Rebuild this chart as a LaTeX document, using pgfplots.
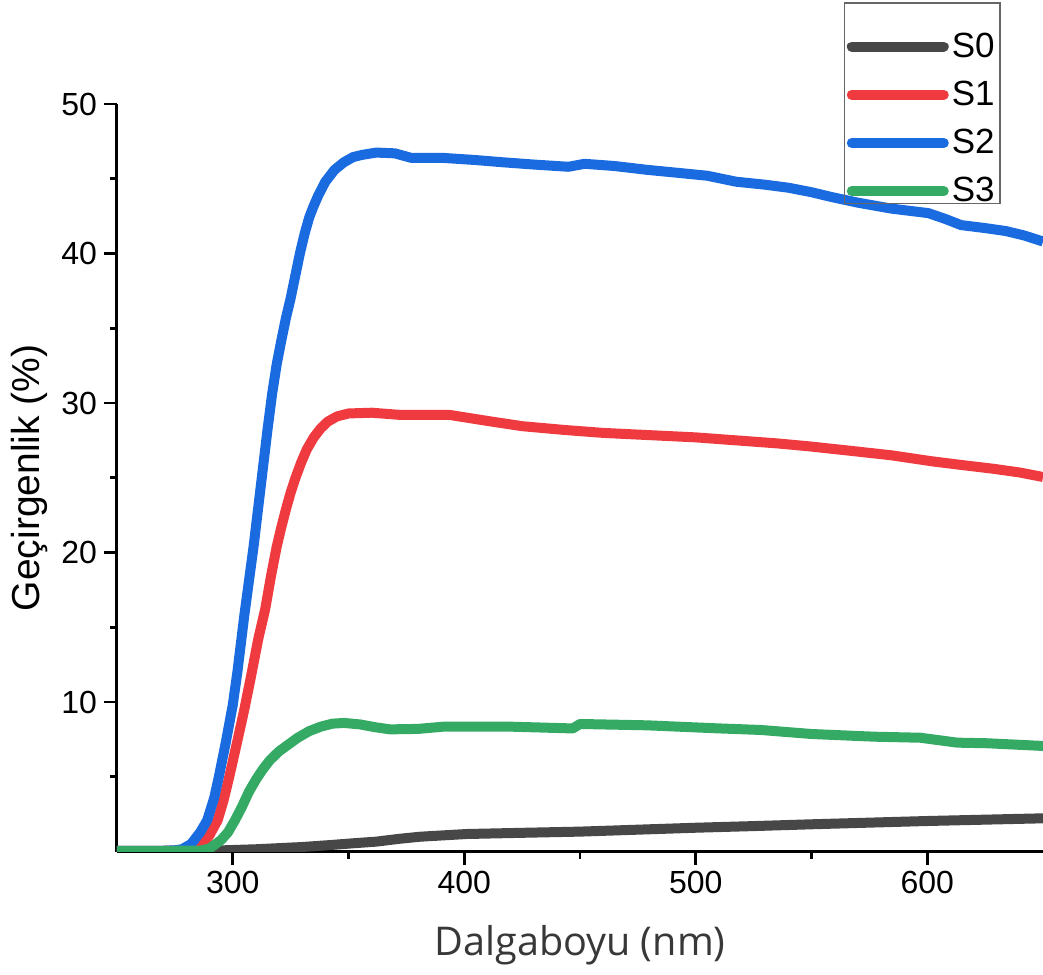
\documentclass[border=0pt]{standalone}
\usepackage{pgfplots}
\pgfplotsset{compat=1.18}
\usepackage{pgfplotstable}
\usepackage{fontspec}
\setmainfont{Liberation Sans}
\newfontfamily\labelfont{Open Sans}
\definecolor{cS0}{HTML}{474747}
\definecolor{cS1}{HTML}{EF3B3F}
\definecolor{cS2}{HTML}{1A6BE0}
\definecolor{cS3}{HTML}{34AA65}

\pgfplotstableread{
x y
250 0.02
270 0.02
290 0.05
310 0.15
330 0.30
342 0.43
352 0.55
362 0.66
372 0.85
381 0.99
401 1.17
425 1.25
450 1.33
475 1.46
500 1.59
525 1.70
550 1.82
575 1.93
600 2.04
625 2.13
650 2.22
}\tS

\pgfplotstableread{
x y
250 0.05
270 0.05
280 0.06
284 0.15
287 0.5
290 1.1
293.5 2.1
296 3.4
298.5 5.0
302 7.4
305 9.5
308 11.8
311 14.2
314 16.2
316.5 18.4
319 20.4
321 21.7
323 22.9
325 24.0
327 24.95
329.5 26.0
332 26.9
335 27.7
338 28.3
341 28.75
345 29.1
350 29.3
360 29.35
372.6 29.2
393.8 29.2
410 28.8
425 28.45
443 28.2
460 28.0
478.7 27.86
500 27.7
517.5 27.5
535 27.3
549 27.1
567 26.8
584.6 26.5
602 26.1
615 25.85
628.6 25.6
640 25.35
650 25.05
}\tA

\pgfplotstableread{
x y
250 0.05
270 0.05
275 0.08
278 0.15
282 0.5
286 1.3
289 2.1
292 3.6
294 5.0
297 7.3
300 9.8
302 12.0
305 15.8
309 20.4
313 25.6
315 28.2
317 30.6
319 32.6
321 34.2
323 35.7
325 37.0
327 38.5
329 40.0
331 41.3
333 42.4
335 43.2
337 43.9
340 44.8
344 45.6
348 46.1
352 46.45
356 46.6
362 46.75
370 46.7
377 46.4
390.3 46.4
405 46.25
416.8 46.1
430 45.95
445 45.8
452 46.0
465 45.85
478.7 45.6
492 45.4
505 45.2
517.5 44.8
530 44.6
540 44.4
550 44.1
558 43.8
570 43.4
584.6 43.0
600.5 42.7
608 42.3
614.6 41.9
625 41.7
634 41.5
642 41.2
650 40.8
}\tB

\pgfplotstableread{
x y
250 0.05
275 0.05
286 0.06
290 0.2
295 0.77
298 1.3
301 2.1
304 3.0
307 4.0
310 4.8
313 5.5
316 6.1
320 6.7
324 7.15
328 7.6
333 8.05
338 8.35
343 8.55
348 8.6
355 8.5
362 8.3
368 8.17
380 8.2
391 8.35
420 8.35
445 8.24
447 8.24
450 8.53
479 8.44
509 8.24
528 8.13
550 7.86
577 7.68
597 7.61
613 7.28
626 7.24
650 7.06
}\tC

\begin{document}
\begin{tikzpicture}
\begin{axis}[
  scale only axis,
  width=463pt, height=373.75pt,
  xmin=250, xmax=650, ymin=0, ymax=50,
  axis x line*=bottom, axis y line*=left,
  axis line style={-, line width=1.5pt, black},
  xtick={300,400,500,600},
  minor xtick={350,450,550},
  ytick={10,20,30,40,50},
  minor ytick={5,15,25,35,45},
  tick align=outside,
  major tick length=6.5pt, minor tick length=3.5pt,
  every tick/.style={black, line width=1.3pt},
  /pgf/number format/assume math mode=true,
  tick label style={font=\fontsize{16}{18}\selectfont},
  xlabel={Dalgaboyu (nm)},
  ylabel={Geçirgenlik (\%)},
  xlabel style={font=\labelfont\fontsize{19.8}{23}\selectfont, text=black!78, at={(axis description cs:0.5,0)}, anchor=center, yshift=-47pt},
  ylabel style={font=\fontsize{19.5}{23}\selectfont, at={(axis description cs:0,0.5)}, anchor=center, yshift=43.5pt},
  legend style={name=leg, at={(axis description cs:1,1)}, anchor=north east, xshift=-21.5pt, yshift=37.3pt,
    draw=none, fill=none,
    font=\fontsize{17.5}{21}\selectfont, inner xsep=1pt, inner ysep=0pt, row sep=7.4pt,
    nodes={inner sep=1.5pt}},
  legend cell align=left,
  legend image code/.code={\draw[#1, line cap=round] (0pt,0pt) -- (46pt,0pt);},
  every axis plot/.append style={line width=5pt, line join=round},
]
\addplot[cS0] table[x=x,y=y] {\tS};
\addlegendentry{S0}
\addplot[cS1] table[x=x,y=y] {\tA};
\addlegendentry{S1}
\addplot[cS2] table[x=x,y=y] {\tB};
\addlegendentry{S2}
\addplot[cS3] table[x=x,y=y] {\tC};
\addlegendentry{S3}
\coordinate (ll) at (rel axis cs:0,0);
\coordinate (ur) at (rel axis cs:1,1);
\end{axis}
\draw[black!60, line width=0.75pt] ([yshift=2.5pt]leg.south west) rectangle ([yshift=13.2pt]leg.north east);
\pgfresetboundingbox
\path[use as bounding box] ([xshift=-58.5pt,yshift=-61.25pt]ll) rectangle ([yshift=52pt]ur);
\end{tikzpicture}
\end{document}
